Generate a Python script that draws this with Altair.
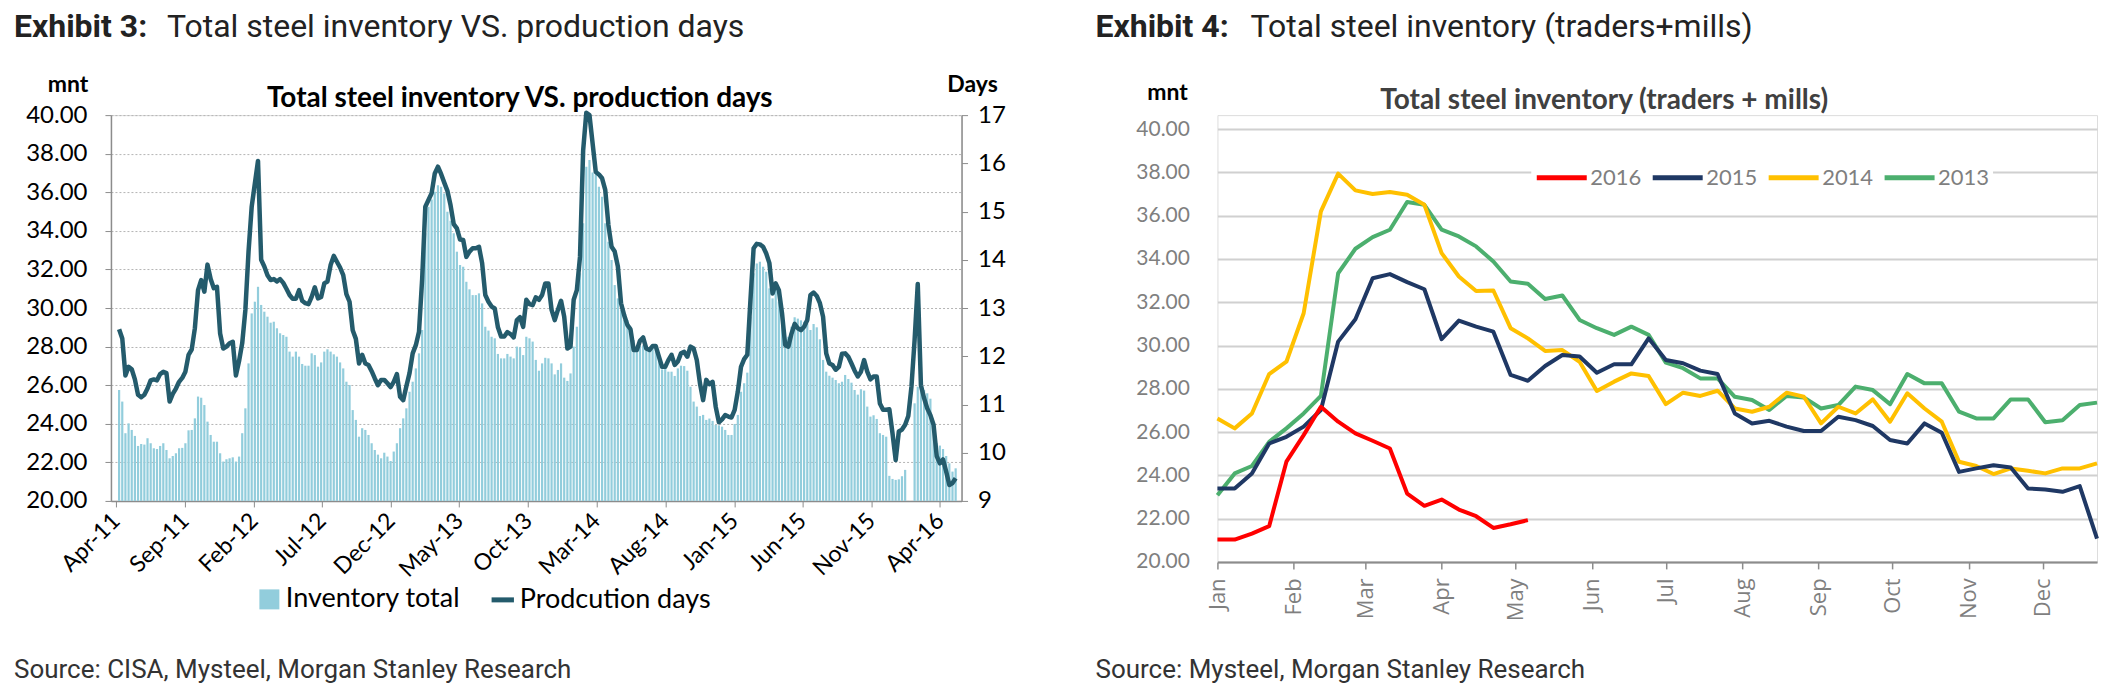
import altair as alt
import pandas as pd

# ---------------- Exhibit 3: weekly data (Apr-2011 .. May-2016) ----------------
inv_start = "2011-04-08"
inventory_total = [
    25.75, 25.15, 23.51, 24.02, 23.68, 23.37, 22.85, 22.95, 22.92, 23.25,
    22.99, 22.73, 22.69, 22.85, 22.99, 22.64, 22.21, 22.33, 22.47, 22.73,
    22.75, 22.99, 23.66, 23.68, 24.28, 25.41, 25.35, 24.97, 24.11, 23.42,
    23.07, 23.07, 22.47, 22.04, 22.16, 22.21, 22.26, 22.04, 22.30, 23.51,
    24.80, 27.13, 29.72, 30.33, 31.10, 30.16, 29.81, 29.55, 29.24, 29.29,
    28.95, 28.69, 28.60, 28.51, 27.74, 27.48, 27.74, 27.48, 27.10, 27.01,
    27.01, 27.65, 27.56, 26.96, 27.18, 27.74, 27.86, 27.74, 27.60, 27.48,
    27.18, 26.87, 26.18, 26.01, 24.71, 24.20, 23.33, 23.77, 23.68, 23.42,
    22.99, 22.64, 22.40, 22.21, 22.50, 22.30, 22.07, 22.56, 22.99, 23.77,
    24.28, 24.80, 25.66, 26.18, 26.87, 27.65, 28.86, 33.87, 35.25, 35.63,
    36.03, 36.37, 36.29, 35.94, 34.99, 34.52, 33.87, 32.92, 32.23, 32.14,
    31.36, 30.97, 30.67, 30.67, 30.76, 30.24, 29.03, 28.83, 28.51, 28.43,
    27.62, 27.39, 27.39, 27.62, 27.48, 27.39, 28.00, 27.96, 27.56, 28.51,
    28.43, 28.26, 27.31, 26.75, 27.13, 27.42, 27.39, 27.13, 26.56, 26.79,
    27.13, 26.39, 26.22, 26.61, 28.00, 29.03, 31.80, 34.39, 37.32, 37.67,
    37.03, 36.94, 36.29, 35.77, 34.39, 33.44, 32.49, 31.19, 30.50, 29.90,
    29.38, 29.38, 29.03, 28.34, 27.91, 28.03, 28.07, 27.82, 27.82, 28.03,
    27.96, 27.48, 26.82, 26.93, 26.70, 26.70, 26.48, 26.87, 27.01, 26.99,
    26.75, 25.92, 25.15, 24.89, 24.40, 24.46, 24.20, 24.27, 24.15, 23.94,
    23.92, 23.85, 23.68, 23.42, 23.42, 23.99, 24.46, 25.66, 26.10, 26.65,
    29.55, 31.80, 32.31, 32.40, 32.14, 31.88, 31.02, 30.50, 31.02, 30.33,
    29.12, 28.43, 28.51, 29.03, 29.52, 29.45, 29.36, 29.29, 29.19, 28.86,
    29.17, 29.00, 28.38, 27.31, 26.70, 26.49, 26.39, 26.27, 26.10, 26.18,
    26.53, 26.32, 26.13, 25.75, 25.51, 25.79, 25.72, 24.89, 24.37, 24.44,
    24.25, 23.51, 23.42, 23.33, 21.30, 21.14, 21.09, 21.12, 21.28, 21.61,
    None, None, 25.06, 25.92, 25.92, 25.75, 25.58, 25.30, 24.02, 22.99,
    22.87, 22.69, 22.33, 21.95, 21.52, 21.69,
]
production_days = [
    12.56, 12.37, 11.60, 11.78, 11.73, 11.52, 11.20, 11.15, 11.20, 11.33,
    11.50, 11.52, 11.50, 11.63, 11.68, 11.65, 11.06, 11.22, 11.33, 11.47,
    11.55, 11.68, 12.03, 12.14, 12.58, 13.37, 13.58, 13.34, 13.90, 13.60,
    13.41, 13.44, 12.47, 12.16, 12.20, 12.27, 12.30, 11.60, 11.90, 12.27,
    12.96, 14.17, 15.10, 15.58, 16.05, 14.00, 13.86, 13.68, 13.58, 13.60,
    13.55, 13.60, 13.52, 13.40, 13.27, 13.19, 13.19, 13.37, 13.15, 13.10,
    13.08, 13.23, 13.43, 13.20, 13.23, 13.51, 13.55, 13.89, 14.08, 13.96,
    13.84, 13.68, 13.29, 13.13, 12.54, 12.36, 11.85, 12.03, 11.85, 11.82,
    11.69, 11.54, 11.40, 11.51, 11.51, 11.44, 11.36, 11.47, 11.63, 11.16,
    11.09, 11.38, 11.65, 12.06, 12.23, 12.51, 13.60, 15.10, 15.24, 15.38,
    15.79, 15.93, 15.78, 15.60, 15.43, 15.13, 14.74, 14.65, 14.42, 14.41,
    14.06, 14.17, 14.24, 14.24, 14.27, 13.93, 13.27, 13.13, 13.03, 12.99,
    12.60, 12.41, 12.41, 12.50, 12.46, 12.39, 12.75, 12.81, 12.61, 13.17,
    13.08, 13.06, 13.22, 13.17, 13.27, 13.51, 13.51, 12.96, 12.75, 12.96,
    13.15, 12.82, 12.16, 12.20, 13.17, 13.37, 14.06, 16.27, 17.05, 17.00,
    16.41, 15.82, 15.77, 15.69, 15.45, 14.72, 14.27, 14.17, 13.86, 13.10,
    12.85, 12.65, 12.56, 12.13, 12.13, 12.32, 12.39, 12.16, 12.13, 12.21,
    12.21, 11.99, 11.78, 11.78, 11.92, 12.03, 11.82, 11.89, 12.06, 12.09,
    11.99, 12.20, 12.16, 11.92, 11.44, 11.09, 11.51, 11.42, 11.47, 10.95,
    10.63, 10.69, 10.78, 10.75, 10.73, 10.89, 11.27, 11.78, 11.94, 12.03,
    13.17, 14.24, 14.33, 14.32, 14.27, 14.13, 13.93, 13.30, 13.51, 13.37,
    12.89, 12.23, 12.20, 12.47, 12.67, 12.58, 12.54, 12.61, 12.75, 13.27,
    13.32, 13.25, 13.10, 12.82, 12.06, 11.85, 11.82, 11.72, 11.78, 12.05,
    12.06, 11.99, 11.85, 11.70, 11.58, 11.68, 11.92, 11.68, 11.52, 11.58,
    11.58, 11.02, 10.89, 10.89, 10.90, 10.40, 9.85, 10.44, 10.48, 10.58,
    10.76, 11.37, 12.34, 13.50, 11.40, 11.13, 10.92, 10.78, 10.58, 9.93,
    9.78, 9.86, 9.61, 9.33, 9.37, 9.47,
]
x_tick_months_left = [(2011, 4), (2011, 9), (2012, 2), (2012, 7), (2012, 12), (2013, 5),
                      (2013, 10), (2014, 3), (2014, 8), (2015, 1), (2015, 6), (2015, 11), (2016, 4)]

# ---------------- Exhibit 4: weekly data by year ----------------
week_start = "2016-01-01"
inv_2016 = [21.03, 21.03, 21.31, 21.65, 24.63, 25.86, 27.17, 26.48, 25.94, 25.60,
            25.24, 23.16, 22.59, 22.88, 22.42, 22.11, 21.57, 21.74, 21.93]
inv_2015 = [23.39, 23.39, 24.09, 25.47, 25.78, 26.25, 27.02, 30.18, 31.21, 33.11,
            33.30, 32.93, 32.60, 30.29, 31.15, 30.87, 30.64, 28.64, 28.37, 29.05,
            29.56, 29.49, 28.74, 29.13, 29.13, 30.33, 29.33, 29.18, 28.84, 28.68,
            26.86, 26.40, 26.52, 26.25, 26.05, 26.05, 26.71, 26.55, 26.28, 25.63,
            25.47, 26.40, 25.97, 24.16, 24.32, 24.47, 24.36, 23.39, 23.35, 23.24,
            23.50, 21.08]
inv_2014 = [26.63, 26.17, 26.86, 28.68, 29.25, 31.49, 36.20, 37.94, 37.17, 37.00,
            37.09, 36.97, 36.50, 34.27, 33.19, 32.52, 32.54, 30.80, 30.33, 29.75,
            29.79, 29.25, 27.90, 28.33, 28.71, 28.59, 27.29, 27.82, 27.67, 27.91,
            27.09, 26.94, 27.17, 27.82, 27.63, 26.40, 27.17, 26.86, 27.51, 26.48,
            27.79, 27.09, 26.48, 24.63, 24.43, 24.06, 24.32, 24.21, 24.09, 24.32,
            24.32, 24.55]
inv_2013 = [23.08, 24.09, 24.43, 25.55, 26.17, 26.86, 27.67, 33.34, 34.47, 35.01,
            35.35, 36.63, 36.50, 35.35, 35.04, 34.58, 33.88, 32.96, 32.85, 32.15,
            32.31, 31.18, 30.80, 30.49, 30.87, 30.49, 29.21, 28.95, 28.48, 28.48,
            27.63, 27.48, 27.02, 27.67, 27.60, 27.09, 27.25, 28.10, 27.94, 27.29,
            28.68, 28.25, 28.25, 26.94, 26.63, 26.63, 27.51, 27.51, 26.45, 26.55,
            27.25, 27.36]
series_names = ["2016", "2015", "2014", "2013"]
series_colors = ["#ff0000", "#1f3864", "#ffc000", "#4caf6e"]

# ---------------- data frames ----------------
left_dates = pd.date_range(inv_start, periods=len(inventory_total), freq="7D").strftime("%Y-%m-%d")
df_left = pd.DataFrame({"date": list(left_dates), "inv": inventory_total, "days": production_days})

rows = []
for name, vals in [("2013", inv_2013), ("2014", inv_2014), ("2015", inv_2015), ("2016", inv_2016)]:
    ds = pd.date_range(week_start, periods=len(vals), freq="7D").strftime("%Y-%m-%d")
    rows += [{"date": d, "value": v, "year": name} for d, v in zip(ds, vals)]
df_right = pd.DataFrame(rows)

LW, LH = 851, 386
RW, RH = 880, 433
ROFF = 14            # right plot starts 14px lower than the left one
AX = "#8c8c8c"
HEAD_Y = -88


def dt(y, m, d=1):
    return alt.DateTime(year=y, month=m, date=d, utc=True)


def label(text, x, y, size, weight="normal", font="Lato", color="black", align="left"):
    return alt.Chart(alt.Data(values=[{"t": text}])).mark_text(
        align=align, baseline="middle", font=font, fontSize=size, fontWeight=weight, color=color
    ).encode(text="t:N", x=alt.value(x), y=alt.value(y))


# ---------------- left chart ----------------
x_left = alt.X(
    "date:T",
    scale=alt.Scale(type="utc", domain=[dt(2011, 4, 1), dt(2016, 5, 8)]),
    axis=alt.Axis(values=[dt(y, m) for y, m in x_tick_months_left], format="%b-%y",
                  labelAngle=-45, labelAlign="right", labelBaseline="middle", labelOverlap=False,
                  labelFont="Lato", labelFontSize=23, labelColor="black", labelPadding=10,
                  tickSize=6, tickColor=AX, domainColor=AX, domainWidth=1.5, grid=False, title=None),
)
bars = alt.Chart(df_left).transform_calculate(s1="'Inventory total'").mark_bar(size=2.2).encode(
    x=x_left,
    y=alt.Y("inv:Q", scale=alt.Scale(domain=[20, 40], nice=False, zero=False),
            axis=alt.Axis(values=list(range(20, 41, 2)), format=".2f", title=None,
                          labelFont="Lato", labelFontSize=24, labelColor="black", labelPadding=18,
                          tickSize=6, tickColor=AX, domainColor=AX, domainWidth=1.5,
                          grid=True, gridColor="#b4b4b4", gridDash=[2, 2], gridWidth=1)),
    y2=alt.datum(20),
    fill=alt.Fill("s1:N", scale=alt.Scale(domain=["Inventory total"], range=["#92cddc"]),
                  legend=alt.Legend(title=None, orient="none", legendX=145, legendY=471,
                                    symbolType="square", symbolSize=400, symbolStrokeWidth=0,
                                    labelFont="Lato", labelFontSize=27, labelColor="black",
                                    labelOffset=3, labelLimit=0, padding=0)),
)
line = alt.Chart(df_left).transform_calculate(s2="'Prodcution days'").mark_line(
    strokeWidth=4.5, strokeJoin="round").encode(
    x=x_left,
    y=alt.Y("days:Q", scale=alt.Scale(domain=[9, 17], nice=False, zero=False),
            axis=alt.Axis(orient="right", values=list(range(9, 18)), format="d", title=None,
                          labelFont="Lato", labelFontSize=24, labelColor="black", labelPadding=10,
                          tickSize=6, tickColor=AX, domainColor=AX, domainWidth=1.5, grid=False)),
    stroke=alt.Stroke("s2:N", scale=alt.Scale(domain=["Prodcution days"], range=["#245b6c"]),
                      legend=alt.Legend(title=None, orient="none", legendX=378, legendY=471,
                                        symbolType="stroke", symbolSize=500, symbolStrokeWidth=5,
                                        labelFont="Lato", labelFontSize=27, labelColor="black",
                                        labelOffset=3, labelLimit=0, padding=0)),
)
left = alt.layer(
    bars, line,
    label("Exhibit 3:", -97, HEAD_Y, 32, "bold", "Roboto", "#222"),
    label("Total steel inventory VS. production days", 56, HEAD_Y, 32, "normal", "Roboto", "#222"),
    label("mnt", -43, -30, 23, "bold", align="center"),
    label("Total steel inventory VS. production days", 409, -16, 28, "bold", align="center"),
    label("Days", 862, -30, 23, "bold", align="center"),
    label("Source: CISA, Mysteel, Morgan Stanley Research", -97, 555, 26, "normal", "Roboto", "#333"),
).resolve_scale(y="independent").properties(width=LW, height=LH)

# ---------------- right chart ----------------
x_right = alt.X(
    "date:T",
    scale=alt.Scale(type="utc", domain=[dt(2016, 1, 1), dt(2016, 12, 23)]),
    axis=alt.Axis(values=[dt(2016, m) for m in range(1, 13)], format="%b", labelAngle=270,
                  labelFont="Open Sans", labelFontSize=22, labelColor="#7f7f7f", labelPadding=9,
                  tickSize=7, tickColor=AX, tickWidth=1.5, domainColor=AX, domainWidth=2,
                  grid=False, title=None),
)
y_right = alt.Y("value:Q", scale=alt.Scale(domain=[20, 40], nice=False, zero=False,
                                           range=[RH + ROFF, ROFF]),
                axis=alt.Axis(values=list(range(20, 41, 2)), format=".2f", title=None,
                              labelFont="Lato", labelFontSize=21, labelColor="#7f7f7f",
                              domain=False, ticks=False, tickSize=0, labelPadding=28,
                              grid=True, gridColor="#d0d0d0", gridWidth=2))
color_right = alt.Color("year:N", scale=alt.Scale(domain=series_names, range=series_colors),
                        legend=alt.Legend(title=None, orient="none", legendX=314, legendY=32,
                                          direction="horizontal", symbolType="stroke",
                                          symbolSize=2500, symbolStrokeWidth=5,
                                          labelFont="Lato", labelFontSize=22, labelColor="#7f7f7f",
                                          labelOffset=1, columnPadding=0, fillColor="white",
                                          labelLimit=0, padding=3))
year_layers = [
    alt.Chart(df_right).transform_filter(alt.datum.year == yr).mark_line(
        strokeWidth=4, strokeJoin="round").encode(x=x_right, y=y_right, color=color_right)
    for yr in ["2013", "2014", "2015", "2016"]
]
right = alt.layer(
    *year_layers,
    label("Exhibit 4:", -122, HEAD_Y, 32, "bold", "Roboto", "#222"),
    label("Total steel inventory (traders+mills)", 33, HEAD_Y, 32, "normal", "Roboto", "#222"),
    label("mnt", -50, -22, 23, "bold", align="center"),
    label("Total steel inventory (traders + mills)", 387, -14, 28, "bold", color="#404040", align="center"),
    label("Source: Mysteel, Morgan Stanley Research", -122, 555, 26, "normal", "Roboto", "#333"),
).properties(width=RW, height=RH + ROFF)

chart = alt.hconcat(left, right, spacing=88).resolve_legend(
    color="independent", fill="independent", stroke="independent"
).properties(
    padding={"left": 5, "top": 2, "right": 5, "bottom": 0}
).configure_view(stroke=None).configure(background="white")

chart.save("out.html", embed_options={"renderer": "svg", "actions": False})
